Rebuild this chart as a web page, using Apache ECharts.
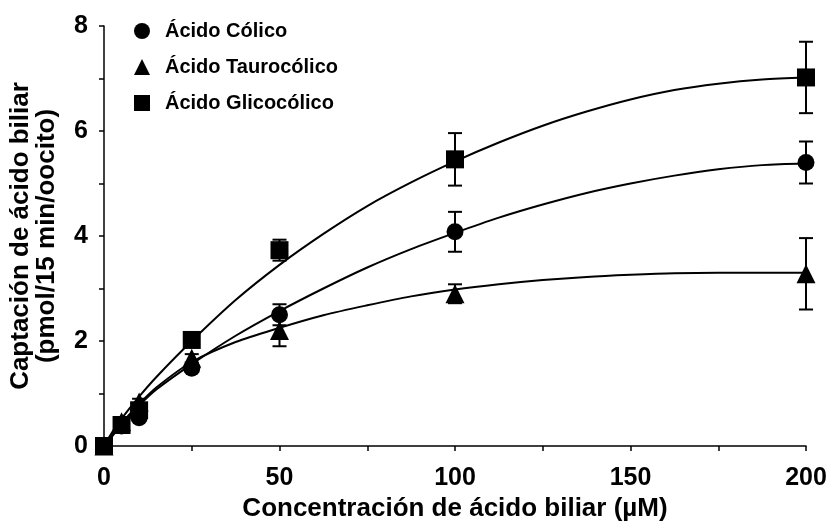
<!DOCTYPE html>
<html><head><meta charset="utf-8">
<script src="https://cdn.jsdelivr.net/npm/echarts@6/dist/echarts.min.js"></script>
<style>html,body{margin:0;padding:0;background:#fff}#c{width:828px;height:522px}</style>
</head><body><div id="c"></div>
<script>
// Data
const concentrations = [0, 5, 10, 25, 50, 100, 200];
const colico     = [0, 0.38, 0.54, 1.48, 2.50, 4.08, 5.40];
const colicoErr  = [0, 0.04, 0.06, 0.06, 0.20, 0.38, 0.40];
const tauro      = [0, 0.46, 0.84, 1.67, 2.20, 2.90, 3.28];
const tauroErr   = [0, 0.04, 0.06, 0.08, 0.30, 0.18, 0.68];
const glico      = [0, 0.40, 0.68, 2.02, 3.73, 5.46, 7.02];
const glicoErr   = [0, 0.04, 0.06, 0.06, 0.20, 0.50, 0.68];

// Fitted curves
const curveX      = [0, 2.5, 5, 10, 15, 25, 37.5, 50, 62.5, 75, 87.5, 100, 112.5, 125, 137.5, 150, 162.5, 175, 187.5, 200];
const colicoCurve = [0, 0.20, 0.40, 0.77, 1.08, 1.56, 2.10, 2.57, 3.00, 3.40, 3.75, 4.06, 4.35, 4.60, 4.82, 5.00, 5.15, 5.27, 5.35, 5.38];
const tauroCurve  = [0, 0.22, 0.43, 0.80, 1.12, 1.60, 1.98, 2.25, 2.49, 2.68, 2.85, 2.98, 3.08, 3.16, 3.22, 3.26, 3.29, 3.30, 3.30, 3.30];
const glicoCurve  = [0, 0.28, 0.52, 0.94, 1.32, 2.00, 2.78, 3.45, 4.04, 4.57, 5.02, 5.42, 5.78, 6.10, 6.37, 6.60, 6.78, 6.90, 6.98, 7.02];

const names = ['Ácido Cólico', 'Ácido Taurocólico', 'Ácido Glicocólico'];
const symbols = ['circle', 'triangle', 'rect'];
const values = [colico, tauro, glico];
const errs = [colicoErr, tauroErr, glicoErr];
const curves = [colicoCurve, tauroCurve, glicoCurve];

const series = [];
curves.forEach((c, i) => {
  series.push({
    type: 'line', name: 'fit' + i, data: curveX.map((x, k) => [x, c[k]]),
    smooth: 0.3, showSymbol: false, symbol: 'none', silent: true, clip: false,
    lineStyle: { color: '#000', width: 2 }, z: 2
  });
});
errs.forEach((e, i) => {
  series.push({
    type: 'custom', name: 'err' + i, clip: false, z: 3,
    data: concentrations.map((x, k) => [x, values[i][k] - e[k], values[i][k] + e[k]]),
    renderItem: function (params, api) {
      const x = api.value(0);
      const lo = api.coord([x, api.value(1)]);
      const hi = api.coord([x, api.value(2)]);
      const w = 7;
      const st = { stroke: '#000', lineWidth: 2 };
      return { type: 'group', children: [
        { type: 'line', shape: { x1: lo[0], y1: lo[1], x2: hi[0], y2: hi[1] }, style: st },
        { type: 'line', shape: { x1: lo[0] - w, y1: lo[1], x2: lo[0] + w, y2: lo[1] }, style: st },
        { type: 'line', shape: { x1: hi[0] - w, y1: hi[1], x2: hi[0] + w, y2: hi[1] }, style: st }
      ]};
    }
  });
});
// draw squares first, circles last (on top)
[2, 1, 0].forEach(i => {
  series.push({
    type: 'scatter', name: names[i], symbol: symbols[i],
    symbolSize: symbols[i] === 'triangle' ? [19, 19] : (symbols[i] === 'rect' ? 18 : 17),
    data: concentrations.map((x, k) => [x, values[i][k]]), clip: false, z: 5 + (2 - i),
    itemStyle: { color: '#000', opacity: 1 }
  });
});

const chart = echarts.init(document.getElementById('c'), null, { renderer: 'canvas' });
const font = 'Liberation Sans, Arial, sans-serif';
chart.setOption({
  animation: false,
  backgroundColor: '#fff',
  grid: { left: 104, right: 22, top: 26, bottom: 76, containLabel: false, outerBoundsMode: 'none' },
  legend: {
    data: names, orient: 'vertical', left: 134, top: 21, itemGap: 16, padding: 0,
    itemWidth: 16, itemHeight: 16,
    textStyle: { fontFamily: font, fontWeight: 'bold', fontSize: 20, color: '#000', padding: [0, 0, 0, 10] }
  },
  xAxis: {
    type: 'value', min: 0, max: 200, interval: 25,
    name: 'Concentración de ácido biliar (µM)', nameLocation: 'middle', nameGap: 50,
    nameTextStyle: { fontFamily: font, fontWeight: 'bold', fontSize: 26, color: '#000' },
    axisLine: { show: true, lineStyle: { color: '#000', width: 1.5 } },
    axisTick: { show: true, length: 5, lineStyle: { color: '#000', width: 1.5 } },
    axisLabel: { fontFamily: font, fontWeight: 'bold', fontSize: 25, color: '#000', margin: 20,
      formatter: v => (v % 50 === 0 ? String(v) : '') },
    splitLine: { show: false }
  },
  yAxis: {
    type: 'value', min: 0, max: 8, interval: 1,
    name: 'Captación de ácido biliar\n(pmol/15 min/oocito)', nameLocation: 'middle', nameGap: 44,
    nameTextStyle: { fontFamily: font, fontWeight: 'bold', fontSize: 26, color: '#000', lineHeight: 26 },
    axisLine: { show: true, lineStyle: { color: '#000', width: 1.5 } },
    axisTick: { show: true, length: 5, lineStyle: { color: '#000', width: 1.5 } },
    axisLabel: { fontFamily: font, fontWeight: 'bold', fontSize: 25, color: '#000', margin: 16,
      formatter: v => (v % 2 === 0 ? String(v) : '') },
    splitLine: { show: false }
  },
  series: series
});
</script>
</body></html>
